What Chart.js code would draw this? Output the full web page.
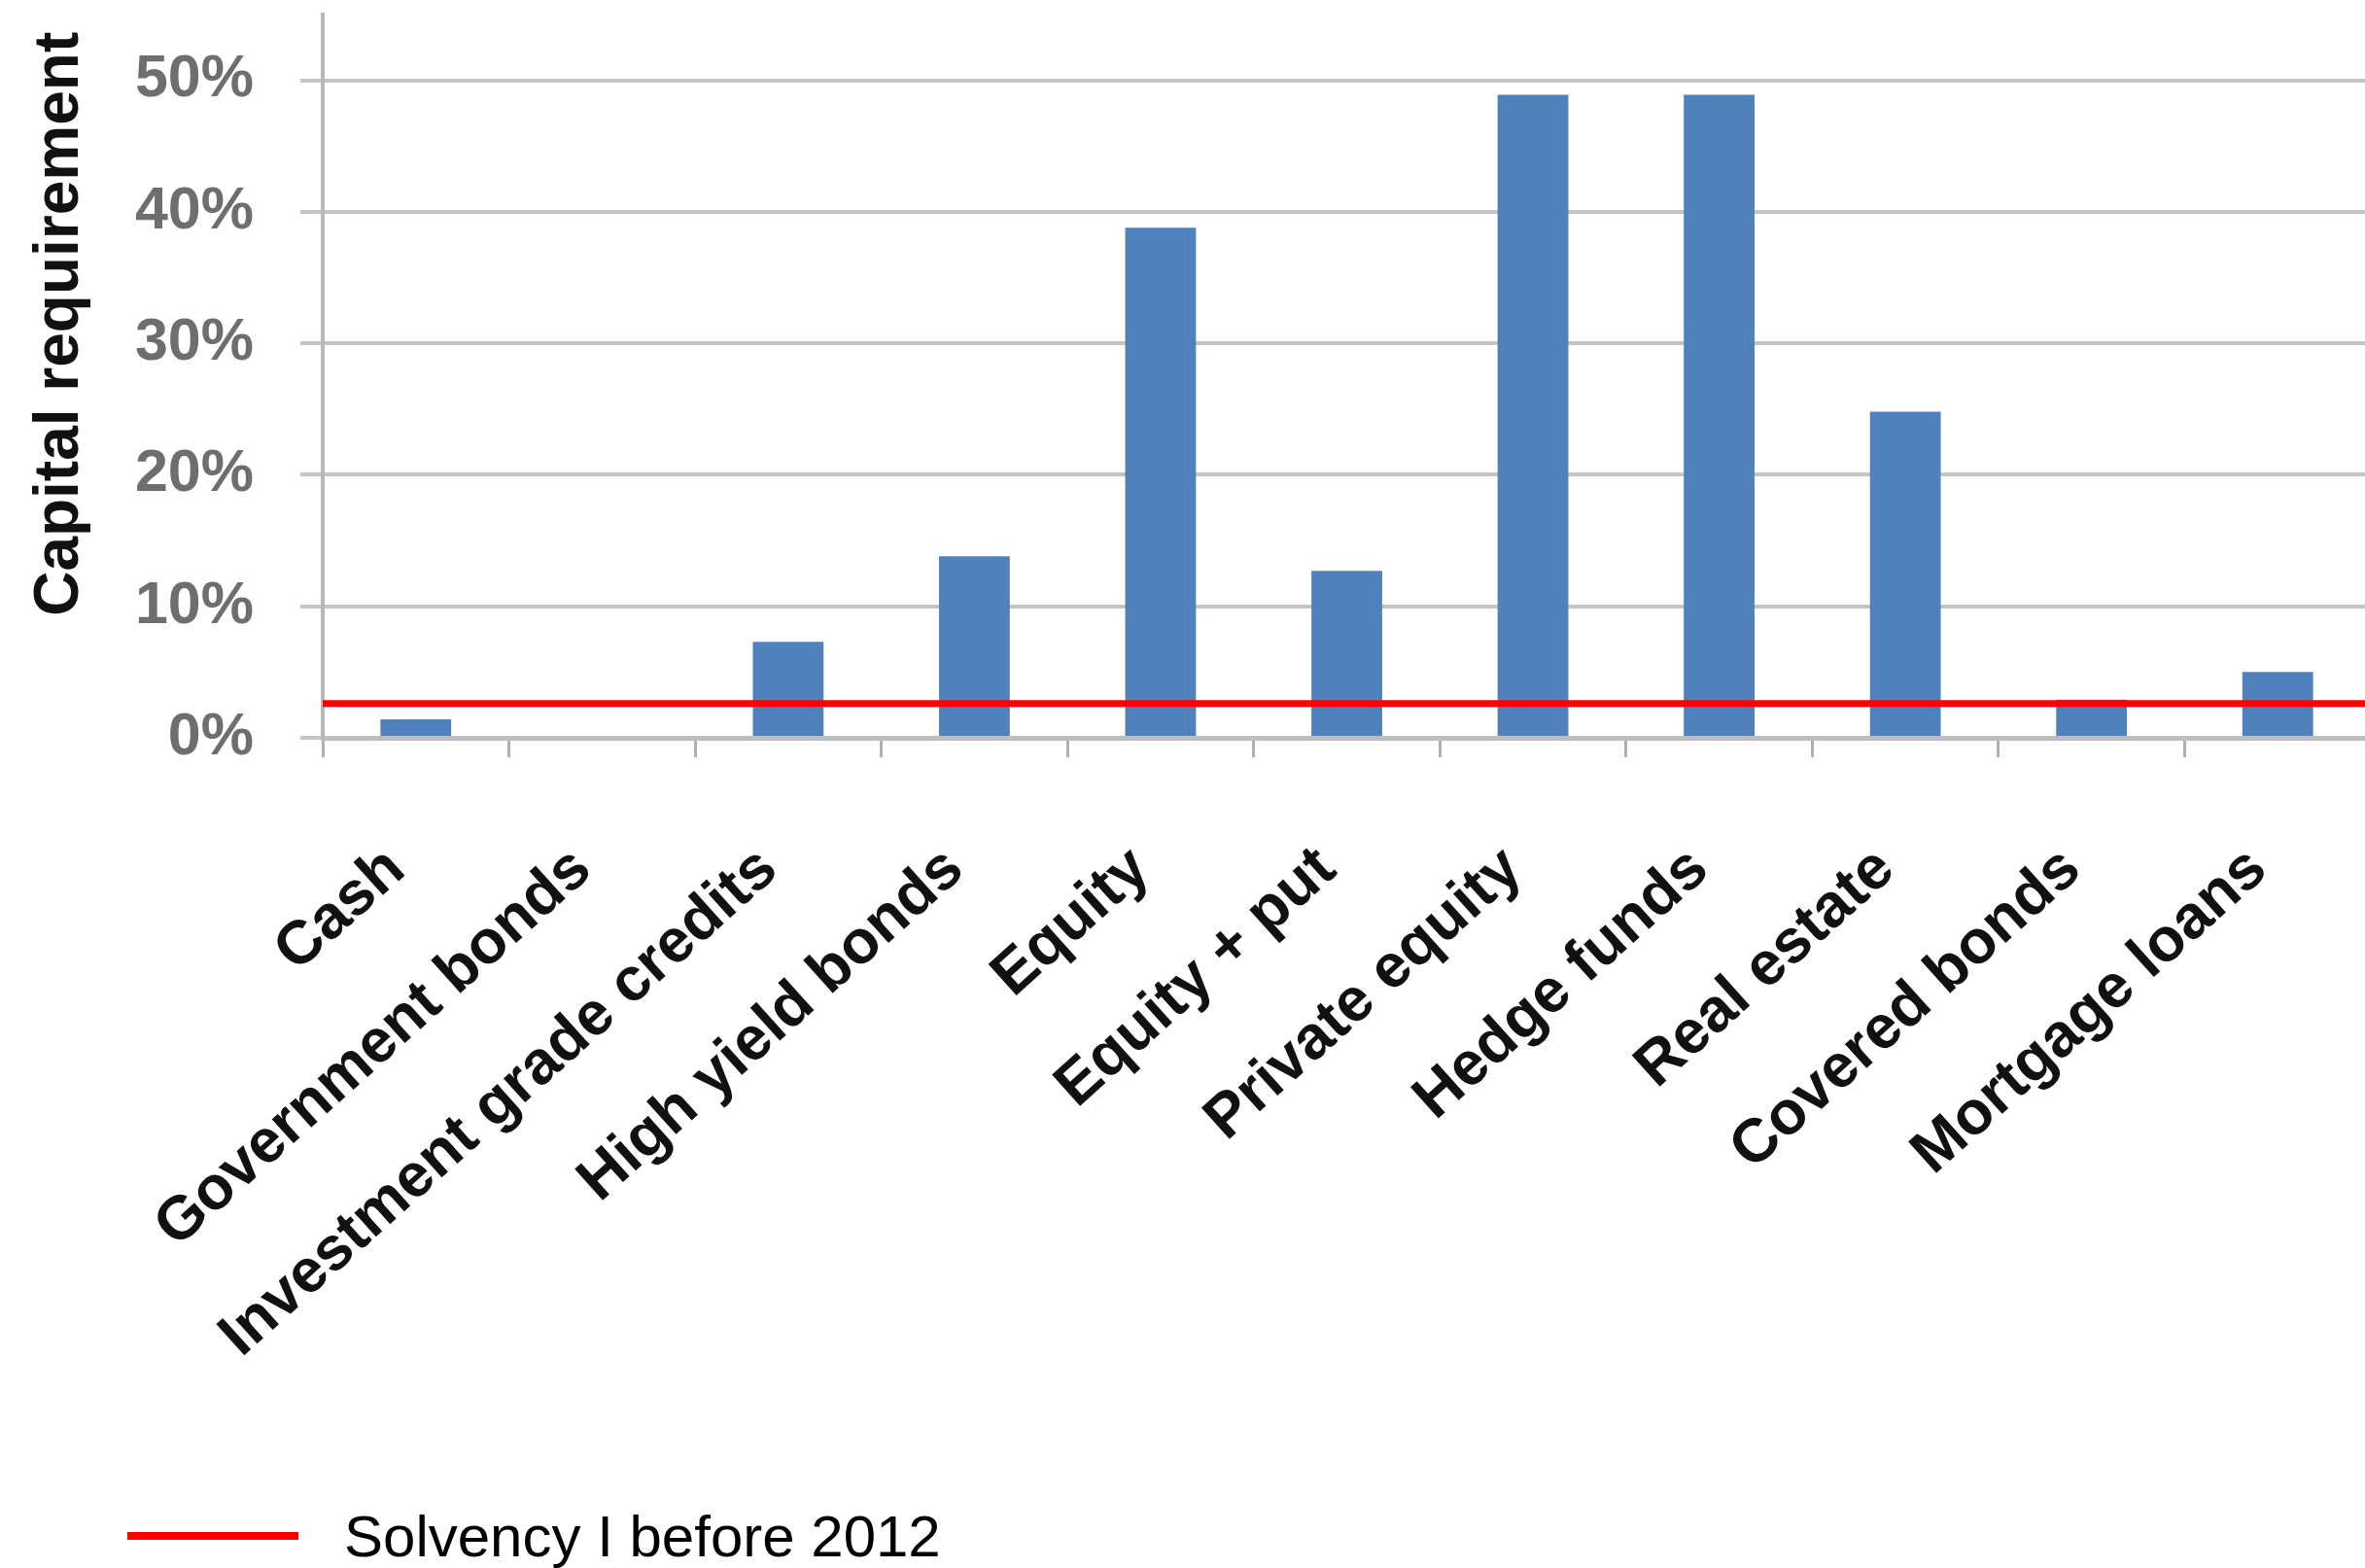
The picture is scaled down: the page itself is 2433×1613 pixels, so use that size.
<!DOCTYPE html>
<html>
<head>
<meta charset="utf-8">
<title>Capital requirement by asset class</title>
<script src="https://cdn.jsdelivr.net/npm/chart.js@4/dist/chart.umd.min.js"></script>
<style>
    html, body { margin: 0; padding: 0; background: #fff; overflow: hidden; }
    #chart-wrap { width: 2445px; height: 1613px; }
</style>
</head>
<body>
<div id="chart-wrap"><canvas id="capitalChart" width="2445" height="1613"></canvas></div>
<script>
/*
 * Capital requirement per asset class, with the old Solvency I level as a reference line
 */

// Chart data
var categories = [
    'Cash', 'Government bonds', 'Investment grade credits', 'High yield bonds',
    'Equity', 'Equity + put', 'Private equity', 'Hedge funds', 'Real estate',
    'Covered bonds', 'Mortgage loans'
];
var requirementValues = [1.4, 0, 7.3, 13.8, 38.8, 12.7, 48.9, 48.9, 24.8, 2.9, 5.0];
var solvencyOneLevel = 2.6;
var yTickValues = [0, 10, 20, 30, 40, 50];
var yAxisMax = 55;
var legendLabel = 'Solvency I before 2012';

(function() {
    'use strict';

    var FONT = "'Liberation Sans', Arial, sans-serif";

    /**
     * Draws the single legend entry under the labels (line swatch + text)
     */
    var bottomLegend = {
        id: 'bottomLegend',
        afterDraw: function(chart) {
            var ds = chart.data.datasets[0];
            var ctx = chart.ctx;
            ctx.save();
            ctx.strokeStyle = ds.borderColor;
            ctx.lineWidth = 8;
            ctx.beginPath();
            ctx.moveTo(131, 1580);
            ctx.lineTo(307, 1580);
            ctx.stroke();

            ctx.fillStyle = '#000';
            ctx.font = '60px ' + FONT;
            ctx.textAlign = 'left';
            ctx.textBaseline = 'alphabetic';
            ctx.fillText(ds.label, 354, 1601);
            ctx.restore();
        }
    };

    var ctx = document.getElementById('capitalChart').getContext('2d');

    new Chart(ctx, {
        type: 'bar',
        data: {
            labels: categories,
            datasets: [{
                type: 'line',
                label: legendLabel,
                data: [{ x: 0, y: solvencyOneLevel }, { x: 1, y: solvencyOneLevel }],
                xAxisID: 'x2',
                borderColor: '#ff0000',
                backgroundColor: '#ff0000',
                borderWidth: 7,
                pointRadius: 0,
                order: 0
            }, {
                type: 'bar',
                label: 'Capital requirement',
                data: requirementValues,
                backgroundColor: '#4f81bd',
                borderWidth: 0,
                grouped: false,
                categoryPercentage: 1,
                barPercentage: 0.38,
                order: 1
            }]
        },
        options: {
            responsive: false,
            animation: false,
            devicePixelRatio: 1,
            layout: {
                padding: { left: 20, top: 15, right: 6, bottom: 0 }
            },
            plugins: {
                legend: { display: false },
                tooltip: { enabled: false }
            },
            scales: {
                x: {
                    type: 'category',
                    offset: true,
                    grid: {
                        offset: true,
                        drawOnChartArea: false,
                        drawTicks: true,
                        tickLength: 20,
                        color: '#b0b0b0',
                        lineWidth: 3
                    },
                    border: { display: true, color: '#bebebe', width: 5 },
                    ticks: {
                        autoSkip: false,
                        minRotation: 42,
                        maxRotation: 42,
                        padding: 78,
                        labelOffset: -20,
                        color: '#111',
                        font: { family: FONT, size: 63, weight: 'bold' }
                    },
                    afterFit: function(scale) {
                        scale.height = 854;
                        scale.paddingLeft = 0;
                        scale.paddingRight = 0;
                    }
                },
                // hidden 0..1 axis so the reference line spans the whole plot width
                x2: {
                    type: 'linear',
                    display: false,
                    offset: false,
                    min: 0,
                    max: 1
                },
                y: {
                    min: 0,
                    max: yAxisMax,
                    grid: {
                        color: '#c4c4c4',
                        lineWidth: 4,
                        drawTicks: true,
                        tickLength: 23
                    },
                    border: { display: true, color: '#b8b8b8', width: 4 },
                    ticks: {
                        padding: 48,
                        color: '#6e6e6e',
                        font: { family: FONT, size: 61, weight: 'bold' },
                        callback: function(value) {
                            return value + '%';
                        }
                    },
                    afterBuildTicks: function(scale) {
                        scale.ticks = yTickValues.map(function(v) { return { value: v }; });
                    },
                    afterFit: function(scale) {
                        scale.width = 312;
                        scale.paddingTop = 0;
                        scale.paddingBottom = 0;
                    },
                    title: {
                        display: true,
                        // trailing space nudges the text down from the top of the axis
                        text: 'Capital requirement ',
                        align: 'end',
                        color: '#111',
                        font: { family: FONT, size: 64, weight: 'bold' },
                        padding: { top: 4, bottom: 0 }
                    }
                }
            }
        },
        plugins: [bottomLegend]
    });
})();
</script>
</body>
</html>
